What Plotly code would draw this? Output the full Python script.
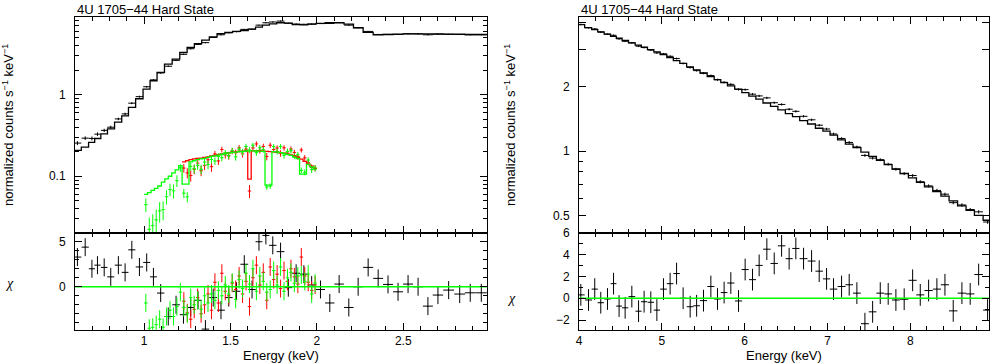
import numpy as np
import plotly.graph_objects as go

# ---- left panel, black (0.6-3 keV)
blk_e = [0.614, 0.659, 0.698, 0.730, 0.769, 0.807, 0.851, 0.890, 0.929, 0.973,
         1.015, 1.054, 1.096, 1.140, 1.185, 1.228, 1.270, 1.312, 1.355, 1.400,
         1.445, 1.490, 1.535, 1.580, 1.625, 1.665, 1.705, 1.745, 1.790, 1.835,
         1.880, 1.925, 1.970, 2.021, 2.075, 2.129, 2.185, 2.239, 2.297, 2.355,
         2.412, 2.470, 2.528, 2.586, 2.643, 2.701, 2.763, 2.827, 2.888, 2.952]
blk_model = [0.207, 0.228, 0.26, 0.29, 0.33, 0.38, 0.46, 0.55, 0.70, 0.89,
             1.17, 1.48, 1.87, 2.37, 2.72, 3.28, 3.78, 4.22, 4.64, 5.1,
             5.6, 5.8, 5.95, 6.1, 6.35, 6.7, 7.1, 7.35, 7.6, 7.5,
             7.2, 7.15, 7.3, 7.45, 7.6, 7.6, 7.3, 6.6, 5.8, 5.4,
             5.45, 5.5, 5.55, 5.55, 5.55, 5.55, 5.5, 5.5, 5.45, 5.45]
blk_data = [0.255, 0.293, 0.291, 0.328, 0.365, 0.399, 0.504, 0.581, 0.786, 0.945,
            1.249, 1.516, 1.844, 2.229, 2.63, 3.117, 3.65, 4.125, 4.335, 5.014,
            5.41, 5.71, 5.91, 6.30, 6.33, 7.10, 7.59, 7.76, 7.96, 7.49,
            7.33, 7.27, 7.32, 7.42, 7.44, 7.63, 7.10, 6.6, 5.95, 5.46,
            5.47, 5.46, 5.57, 5.55, 5.41, 5.49, 5.48, 5.45, 5.41, 5.41]
blk_ferr = [0.014, 0.015, 0.016, 0.016, 0.017, 0.017, 0.018, 0.019, 0.021, 0.025,
            0.029, 0.033, 0.037, 0.043, 0.046, 0.052, 0.057, 0.063, 0.065, 0.071,
            0.073, 0.075, 0.075, 0.075, 0.076, 0.080, 0.085, 0.088, 0.091, 0.090,
            0.086, 0.086, 0.088, 0.089, 0.091, 0.091, 0.088, 0.079, 0.070, 0.065,
            0.065, 0.066, 0.067, 0.067, 0.067, 0.067, 0.066, 0.066, 0.065, 0.065]
blk_chi = [3.3, 4.4, 2.0, 2.4, 2.15, 1.1, 2.4, 1.6, 4.1, 2.2,
           2.7, 1.1, -0.7, -3.3, -2.0, -3.1, -2.3, -1.5, -4.7, -1.2,
           -2.6, -1.2, -0.5, 2.5, -0.3, 5.0, 5.7, 4.6, 3.9, -0.1,
           1.5, 1.4, 0.2, -0.3, -1.8, 0.3, -2.3, 0.0, 2.15, 0.93,
           0.26, -0.56, 0.3, 0.0, -2.15, -0.92, -0.37, -0.81, -0.67, -0.67]

# ---- left panel, green
grn_e = [1.01, 1.03, 1.05, 1.07, 1.09, 1.11, 1.13, 1.15, 1.17, 1.19,
         1.21, 1.23, 1.25, 1.27, 1.29, 1.31, 1.33, 1.35, 1.37, 1.39,
         1.41, 1.43, 1.45, 1.47, 1.49, 1.51, 1.53, 1.55, 1.57, 1.59,
         1.61, 1.63, 1.65, 1.67, 1.69, 1.71, 1.73, 1.75, 1.77, 1.79,
         1.81, 1.83, 1.85, 1.87, 1.89, 1.91, 1.93, 1.95, 1.97, 1.99]
grn_model = [0.060, 0.063, 0.067, 0.071, 0.076, 0.085, 0.093, 0.100, 0.110, 0.120,
             0.135, 0.080, 0.080, 0.150, 0.155, 0.160, 0.163, 0.166, 0.170, 0.175,
             0.178, 0.182, 0.186, 0.190, 0.193, 0.196, 0.198, 0.200, 0.202, 0.204,
             0.205, 0.205, 0.204, 0.203, 0.202, 0.078, 0.078, 0.200, 0.198, 0.195,
             0.190, 0.185, 0.180, 0.172, 0.165, 0.106, 0.106, 0.140, 0.130, 0.122]
grn_data = [0.0449, 0.0224, 0.0248, 0.0293, 0.0377, 0.0391, 0.0562, 0.0688, 0.0664, 0.0883,
            0.127, 0.062, 0.056, 0.132, 0.124, 0.136, 0.122, 0.149, 0.139, 0.161,
            0.154, 0.175, 0.169, 0.193, 0.179, 0.205, 0.173, 0.214, 0.198, 0.232,
            0.210, 0.240, 0.195, 0.224, 0.212, 0.074, 0.076, 0.231, 0.201, 0.231,
            0.181, 0.202, 0.206, 0.178, 0.183, 0.118, 0.112, 0.158, 0.121, 0.126]
grn_ferr = [0.0084, 0.0088, 0.0094, 0.0099, 0.0106, 0.0102, 0.0112, 0.012, 0.0132, 0.0144,
            0.0135, 0.008, 0.008, 0.015, 0.0155, 0.016, 0.0163, 0.0166, 0.017, 0.0175,
            0.016, 0.0164, 0.0167, 0.0171, 0.0174, 0.0176, 0.0178, 0.018, 0.0182, 0.0184,
            0.0174, 0.0174, 0.0173, 0.0173, 0.0172, 0.006, 0.006, 0.017, 0.0168, 0.0166,
            0.0171, 0.0167, 0.0162, 0.0155, 0.0149, 0.0095, 0.0095, 0.0126, 0.0117, 0.011]
grn_chi = [-1.8, -4.6, -4.5, -4.2, -3.6, -4.5, -3.3, -2.6, -3.3, -2.2,
           -0.6, -2.3, -3.0, -1.2, -2.0, -1.5, -2.5, -1.0, -1.8, -0.8,
           -1.5, -0.4, -1.0, 0.2, -0.8, 0.5, -1.4, 0.8, -0.2, 1.5,
           0.3, 2.0, -0.5, 1.2, 0.6, -0.6, -0.3, 1.8, 0.2, 2.2,
           -0.5, 1.0, 1.6, 0.4, 1.2, 1.3, 0.6, 1.4, -0.8, 0.4]

# ---- left panel, red
red_e = [1.23, 1.25, 1.27, 1.29, 1.31, 1.33, 1.35, 1.37, 1.39, 1.41,
         1.43, 1.45, 1.47, 1.49, 1.51, 1.53, 1.55, 1.57, 1.59, 1.61,
         1.63, 1.65, 1.67, 1.69, 1.71, 1.73, 1.75, 1.77, 1.79, 1.81,
         1.83, 1.85, 1.87, 1.89, 1.91, 1.93, 1.95, 1.97, 1.99]
red_model = [0.150, 0.155, 0.160, 0.163, 0.165, 0.167, 0.170, 0.173, 0.177, 0.180,
             0.184, 0.188, 0.191, 0.194, 0.197, 0.199, 0.201, 0.203, 0.204, 0.092,
             0.205, 0.205, 0.204, 0.203, 0.202, 0.200, 0.199, 0.197, 0.195, 0.192,
             0.188, 0.183, 0.177, 0.170, 0.162, 0.152, 0.142, 0.133, 0.124]
red_data = [0.126, 0.110, 0.102, 0.122, 0.145, 0.117, 0.136, 0.159, 0.131, 0.188,
            0.154, 0.213, 0.182, 0.177, 0.204, 0.194, 0.223, 0.188, 0.215, 0.066,
            0.223, 0.249, 0.208, 0.232, 0.175, 0.240, 0.213, 0.222, 0.191, 0.223,
            0.198, 0.216, 0.195, 0.175, 0.210, 0.168, 0.148, 0.128, 0.126]
red_ferr = [0.015, 0.0155, 0.016, 0.0163, 0.0165, 0.0167, 0.017, 0.0173, 0.0177, 0.0162,
            0.0166, 0.0169, 0.0172, 0.0175, 0.0177, 0.0179, 0.0181, 0.0183, 0.0184, 0.012,
            0.0185, 0.0185, 0.0184, 0.0183, 0.0182, 0.018, 0.0179, 0.0177, 0.0176, 0.0173,
            0.0169, 0.0165, 0.0159, 0.0153, 0.0146, 0.0137, 0.0128, 0.012, 0.0112]
red_chi = [-1.6, -2.9, -3.6, -2.5, -1.2, -3.0, -2.0, -0.8, -2.6, 0.5,
           -1.8, 1.5, -0.5, -1.0, 0.4, -0.3, 1.2, -0.8, 0.6, -2.2,
           1.0, 2.4, 0.2, 1.6, -1.5, 2.2, 0.8, 1.4, -0.2, 1.8,
           0.6, 2.0, 1.1, 0.3, 3.3, 1.2, 0.5, -0.4, 0.2]

# ---- right panel, black (4-9 keV)
hi_e = [4.022, 4.115, 4.190, 4.263, 4.344, 4.417, 4.484, 4.557, 4.638, 4.719,
        4.786, 4.867, 4.940, 5.020, 5.100, 5.178, 5.257, 5.342, 5.420, 5.503,
        5.592, 5.672, 5.752, 5.833, 5.926, 6.006, 6.095, 6.175, 6.268, 6.357,
        6.446, 6.537, 6.618, 6.711, 6.808, 6.900, 6.989, 7.073, 7.170, 7.262,
        7.355, 7.452, 7.545, 7.637, 7.733, 7.826, 7.926, 8.028, 8.120, 8.221,
        8.321, 8.418, 8.518, 8.623, 8.723, 8.825, 8.933]
hi_model = [3.90, 3.78, 3.70, 3.61, 3.52, 3.44, 3.37, 3.29, 3.21, 3.13,
            3.06, 2.98, 2.91, 2.83, 2.74, 2.65, 2.57, 2.48, 2.40, 2.32,
            2.23, 2.16, 2.09, 2.02, 1.95, 1.88, 1.81, 1.75, 1.68, 1.62,
            1.56, 1.50, 1.45, 1.39, 1.34, 1.28, 1.24, 1.19, 1.13, 1.08,
            1.04, 0.99, 0.946, 0.906, 0.865, 0.826, 0.787, 0.750, 0.716, 0.681,
            0.647, 0.617, 0.586, 0.556, 0.530, 0.502, 0.476]
hi_data = [3.91, 3.775, 3.725, 3.60, 3.52, 3.48, 3.35, 3.265, 3.21, 3.095,
           3.05, 2.97, 2.88, 2.85, 2.777, 2.71, 2.57, 2.46, 2.38, 2.314,
           2.256, 2.158, 2.10, 2.053, 1.944, 1.94, 1.847, 1.813, 1.775, 1.685,
           1.654, 1.571, 1.536, 1.456, 1.402, 1.323, 1.27, 1.204, 1.147, 1.099,
           1.047, 0.956, 0.929, 0.913, 0.870, 0.824, 0.786, 0.770, 0.720, 0.689,
           0.656, 0.630, 0.575, 0.561, 0.534, 0.521, 0.467]
hi_ferr = [0.031, 0.030, 0.030, 0.029, 0.029, 0.030, 0.030, 0.029, 0.029, 0.029,
           0.029, 0.028, 0.027, 0.028, 0.027, 0.027, 0.026, 0.026, 0.026, 0.026,
           0.025, 0.024, 0.024, 0.024, 0.023, 0.023, 0.022, 0.021, 0.021, 0.020,
           0.020, 0.020, 0.019, 0.018, 0.018, 0.017, 0.017, 0.017, 0.016, 0.016,
           0.015, 0.015, 0.014, 0.014, 0.013, 0.013, 0.013, 0.012, 0.012, 0.011,
           0.011, 0.010, 0.010, 0.010, 0.009, 0.009, 0.009]
hi_chi = [0.31, -0.16, 0.84, -0.41, -0.07, 1.34, -0.72, -0.88, 0.15, -1.19,
          -0.32, -0.37, -1.09, 0.84, 1.34, 2.27, 0.0, -0.78, -0.69, -0.22,
          1.08, -0.07, 0.52, 1.4, -0.25, 2.64, 1.71, 3.02, 4.51, 3.2,
          4.82, 3.64, 4.58, 3.64, 3.42, 2.49, 1.78, 0.84, 1.08, 1.24,
          0.47, -2.34, -1.25, 0.47, 0.4, -0.16, -0.09, 1.65, 0.31, 0.71,
          0.84, 1.24, -1.16, 0.47, 0.4, 2.18, -1.09]

title_txt = "4U 1705\u221244 Hard State"
ytitle = "normalized counts s<sup>\u22121</sup> keV<sup>\u22121</sup>"

W, H = 992, 364
FONT = "Liberation Sans, Arial, Helvetica, sans-serif"


def edges_of(c):
    c = np.asarray(c, float)
    mid = (c[1:] + c[:-1]) / 2
    return np.concatenate([[c[0] - (mid[0] - c[0])], mid, [c[-1] + (c[-1] - mid[-1])]])


def data_trace(e, y, ey, color, xa, ya):
    ed = edges_of(e)
    return go.Scatter(x=e, y=y, mode="markers", xaxis=xa, yaxis=ya,
                      marker=dict(size=1, color=color),
                      error_x=dict(type="data", array=np.diff(ed) / 2, color=color, thickness=1, width=0),
                      error_y=dict(type="data", array=ey, color=color, thickness=1, width=0),
                      showlegend=False, hoverinfo="skip")


def step_trace(e, m, color, xa, ya):
    ed = edges_of(e)
    return go.Scatter(x=ed, y=list(m) + [m[-1]], mode="lines", line_shape="hv",
                      line=dict(color=color, width=1.3), xaxis=xa, yaxis=ya,
                      showlegend=False, hoverinfo="skip")


ones_blk = [1] * len(blk_e)
ones_grn = [1] * len(grn_e)
ones_red = [1] * len(red_e)
ones_hi = [1] * len(hi_e)

fig = go.Figure()
# left upper
fig.add_trace(data_trace(blk_e, blk_data, blk_ferr, "black", "x", "y"))
fig.add_trace(data_trace(red_e, red_data, red_ferr, "#ff0000", "x", "y"))
fig.add_trace(data_trace(grn_e, grn_data, grn_ferr, "#00ff00", "x", "y"))
fig.add_trace(step_trace(blk_e, blk_model, "black", "x", "y"))
fig.add_trace(step_trace(red_e, red_model, "#ff0000", "x", "y"))
fig.add_trace(step_trace(grn_e, grn_model, "#00ff00", "x", "y"))
# left lower
fig.add_trace(data_trace(blk_e, blk_chi, ones_blk, "black", "x2", "y2"))
fig.add_trace(data_trace(red_e, red_chi, ones_red, "#ff0000", "x2", "y2"))
fig.add_trace(data_trace(grn_e, grn_chi, ones_grn, "#00ff00", "x2", "y2"))
fig.add_trace(go.Scatter(x=[0.5, 3.1], y=[0, 0], mode="lines", line=dict(color="#00ff00", width=1.5),
                         xaxis="x2", yaxis="y2", showlegend=False, hoverinfo="skip"))
# right upper
fig.add_trace(data_trace(hi_e, hi_data, hi_ferr, "black", "x3", "y3"))
fig.add_trace(step_trace(hi_e, hi_model, "black", "x3", "y3"))
# right lower
fig.add_trace(data_trace(hi_e, hi_chi, ones_hi, "black", "x4", "y4"))
fig.add_trace(go.Scatter(x=[3.9, 9.1], y=[0, 0], mode="lines", line=dict(color="#00ff00", width=1.5),
                         xaxis="x4", yaxis="y4", showlegend=False, hoverinfo="skip"))

axis_base = dict(showline=True, linecolor="black", linewidth=1, mirror="ticks",
                 ticks="inside", ticklen=7, tickcolor="black", tickwidth=1,
                 showgrid=False, zeroline=False, automargin=False,
                 tickfont=dict(family=FONT, size=12, color="black"))

xl = [75 / W, 487 / W]
xr = [579 / W, 989 / W]
yu = [1 - 233 / H, 1 - 17 / H]
yl = [1 - 330 / H, 1 - 233 / H]

minor_x = dict(ticks="inside", ticklen=4, tickcolor="black")

fig.update_layout(
    width=W, height=H, margin=dict(l=0, r=0, t=0, b=0, autoexpand=False),
    paper_bgcolor="white", plot_bgcolor="white",
    font=dict(family=FONT, size=12, color="black"),
    xaxis=dict(axis_base, domain=xl, range=[0.6, 2.985], dtick=0.5, tick0=0,
               showticklabels=False, minor=dict(minor_x, dtick=0.1), anchor="y", matches="x2"),
    xaxis2=dict(axis_base, domain=xl, range=[0.6, 2.985], dtick=0.5, tick0=0,
                minor=dict(minor_x, dtick=0.1), anchor="y2"),
    yaxis=dict(axis_base, domain=yu, type="log", range=[-1.695, 0.951],
               tickvals=[0.1, 1], ticktext=["0.1", "1"], ticklabelstandoff=6,
               minor=dict(ticks="inside", ticklen=4, tickcolor="black",
                          tickvals=[0.03, 0.04, 0.05, 0.06, 0.07, 0.08, 0.09,
                                    0.2, 0.3, 0.4, 0.5, 0.6, 0.7, 0.8, 0.9,
                                    2, 3, 4, 5, 6, 7, 8]),
               anchor="x"),
    yaxis2=dict(axis_base, domain=yl, range=[-4.8, 5.97], tickvals=[0, 5],
                ticklabelstandoff=6, minor=dict(minor_x, dtick=1), anchor="x2"),
    xaxis3=dict(axis_base, domain=xr, range=[4.0, 8.95], dtick=1, tick0=0,
                showticklabels=False, minor=dict(minor_x, dtick=0.2), anchor="y3", matches="x4"),
    xaxis4=dict(axis_base, domain=xr, range=[4.0, 8.95], dtick=1, tick0=0,
                minor=dict(minor_x, dtick=0.2), anchor="y4"),
    yaxis3=dict(axis_base, domain=yu, type="log", range=[-0.382, 0.627],
                tickvals=[0.5, 1, 2, 3, 4], ticktext=["0.5", "1", "2", "", ""], ticklabelstandoff=6,
                minor=dict(ticks="inside", ticklen=4, tickcolor="black",
                           tickvals=[0.6, 0.7, 0.8, 0.9]),
                anchor="x3"),
    yaxis4=dict(axis_base, domain=yl, range=[-2.92, 6.0], dtick=2, tick0=0,
                ticklabelstandoff=6, minor=dict(minor_x, dtick=1), anchor="x4"),
)

ann_font = dict(family=FONT, size=13, color="black")
chi_font = dict(family="Liberation Serif, DejaVu Serif, serif", size=14, color="black")
annotations = [
    dict(text=title_txt, x=75 / W, y=1 - 0 / H, xanchor="left", yanchor="top", font=ann_font),
    dict(text=title_txt, x=579 / W, y=1 - 0 / H, xanchor="left", yanchor="top", font=ann_font),
    dict(text=ytitle, x=8 / W, y=1 - 125 / H, textangle=-90, xanchor="center", yanchor="middle", font=ann_font),
    dict(text=ytitle, x=510 / W, y=1 - 125 / H, textangle=-90, xanchor="center", yanchor="middle", font=ann_font),
    dict(text="<i>\u03c7</i>", x=9 / W, y=1 - 283 / H, xanchor="center", yanchor="middle", font=chi_font),
    dict(text="<i>\u03c7</i>", x=511 / W, y=1 - 298 / H, xanchor="center", yanchor="middle", font=chi_font),
    dict(text="Energy (keV)", x=281 / W, y=1 - 355 / H, xanchor="center", yanchor="middle", font=ann_font),
    dict(text="Energy (keV)", x=784 / W, y=1 - 355 / H, xanchor="center", yanchor="middle", font=ann_font),
]
for a in annotations:
    fig.add_annotation(dict(a, xref="paper", yref="paper", showarrow=False))

fig.write_html("out.html", config={"displayModeBar": False},
               post_script="document.body.style.margin='0';document.body.style.overflow='hidden';")
